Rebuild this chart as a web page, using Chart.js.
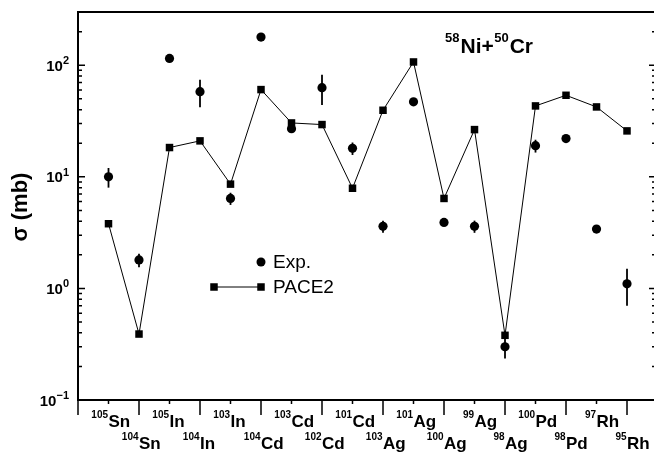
<!DOCTYPE html>
<html>
<head>
<meta charset="utf-8">
<script src="https://cdn.jsdelivr.net/npm/chart.js@4"></script>
<style>
  html, body { margin: 0; padding: 0; background: #fff; }
</style>
</head>
<body>
<canvas id="chart" width="654" height="452"></canvas>
<script>
// isotopes along the x axis (mass number + element)
const massNumbers = ["105", "104", "105", "104", "103", "104", "103", "102", "101", "103", "101", "100", "99", "98", "100", "98", "97", "95"];
const elements = ["Sn", "Sn", "In", "In", "In", "Cd", "Cd", "Cd", "Cd", "Ag", "Ag", "Ag", "Ag", "Ag", "Pd", "Pd", "Rh", "Rh"];

// cross sections in mb
const expValues = [10, 1.8, 115, 58, 6.4, 179, 27, 63, 18, 3.6, 47, 3.9, 3.6, 0.3, 19, 22, 3.4, 1.1];
const expErrors = [2, 0.25, 0, 16, 0.8, 0, 0, 19, 2.3, 0.45, 0, 0, 0.45, 0.065, 2.5, 0, 0, 0.4];
const paceValues = [3.8, 0.39, 18.3, 21, 8.6, 60.5, 30.4, 29.4, 7.9, 39.5, 107, 6.4, 26.5, 0.38, 43.2, 53.8, 42.3, 25.8];

const yTickExponents = [-1, 0, 1, 2];
const titleParts = [["58", true], ["Ni+", false], ["50", true], ["Cr", false]];

const FONT = "'Liberation Sans', Arial, Helvetica, sans-serif";
const INK = "#000";

const toPoints = (vals) => vals.map((v, i) => ({ x: i + 1, y: v }));

const decorations = {
   id: "decorations",
   beforeDatasetsDraw(chart) {
      // error bars under the markers
      const { ctx, scales } = chart;
      ctx.save();
      ctx.strokeStyle = INK;
      ctx.lineWidth = 1.8;
      expValues.forEach((v, i) => {
         const err = expErrors[i];
         if (!err) return;
         const x = scales.x.getPixelForValue(i + 1);
         ctx.beginPath();
         ctx.moveTo(x, scales.y.getPixelForValue(v + err));
         ctx.lineTo(x, scales.y.getPixelForValue(v - err));
         ctx.stroke();
      });
      ctx.restore();
   },
   afterDraw(chart) {
      const { ctx, chartArea: a, scales } = chart;
      const xs = scales.x;
      const ys = scales.y;
      ctx.save();
      ctx.strokeStyle = INK;
      ctx.fillStyle = INK;

      // frame
      ctx.lineWidth = 2;
      ctx.beginPath();
      ctx.moveTo(a.left, a.top);
      ctx.lineTo(a.right + 2, a.top);
      ctx.moveTo(a.left, a.top - 1);
      ctx.lineTo(a.left, a.bottom + 1);
      ctx.moveTo(a.left - 1, a.bottom);
      ctx.lineTo(a.right + 2, a.bottom);
      ctx.stroke();

      // x ticks (outward), long ones under the lower row of labels
      ctx.lineWidth = 1.5;
      ctx.beginPath();
      for (let i = 0; i <= elements.length; i++) {
         const x = xs.getPixelForValue(i);
         const len = i % 2 === 0 ? 15 : 4;
         ctx.moveTo(x, a.bottom);
         ctx.lineTo(x, a.bottom + len);
      }
      ctx.stroke();

      // y ticks, inward on left and right
      ctx.beginPath();
      for (let d = -1; d <= 2; d++) {
         for (let m = 1; m <= 9; m++) {
            const v = m * Math.pow(10, d);
            if (v > 300) break;
            const y = ys.getPixelForValue(v);
            const len = m === 1 ? 7 : 4;
            ctx.moveTo(a.left, y);
            ctx.lineTo(a.left + len, y);
            ctx.moveTo(a.right + 2, y);
            ctx.lineTo(a.right + 2 - len, y);
         }
      }
      ctx.stroke();

      // y tick labels 10^n
      ctx.textBaseline = "alphabetic";
      yTickExponents.forEach((e) => {
         const y = ys.getPixelForValue(Math.pow(10, e));
         const sup = e < 0 ? "\u2212" + Math.abs(e) : String(e);
         ctx.font = "bold 11px " + FONT;
         const supW = ctx.measureText(sup).width;
         ctx.font = "bold 15px " + FONT;
         const baseW = ctx.measureText("10").width;
         const right = a.left - 9;
         ctx.textAlign = "left";
         ctx.fillText("10", right - supW - baseW, y + 5.5);
         ctx.font = "bold 11px " + FONT;
         ctx.fillText(sup, right - supW, y - 1);
      });

      // x labels in two staggered rows
      elements.forEach((el, i) => {
         const x = xs.getPixelForValue(i + 1);
         const base = i % 2 === 0 ? 427 : 449;
         ctx.font = "bold 17px " + FONT;
         ctx.textAlign = "left";
         ctx.fillText(el, x, base);
         ctx.font = "bold 10px " + FONT;
         ctx.textAlign = "right";
         ctx.fillText(massNumbers[i], x - 0.5, base - 9);
      });

      // y axis title
      ctx.save();
      ctx.translate(21, (a.top + a.bottom) / 2 + 1);
      ctx.rotate(-Math.PI / 2);
      ctx.font = "bold 22px " + FONT;
      ctx.textAlign = "center";
      ctx.textBaseline = "middle";
      ctx.fillText("\u03c3 (mb)", 0, 0);
      ctx.restore();

      // reaction label
      let cx = 445;
      ctx.textAlign = "left";
      titleParts.forEach(([t, sup]) => {
         ctx.font = sup ? "bold 13px " + FONT : "bold 21px " + FONT;
         ctx.fillText(t, cx, sup ? 42 : 53);
         cx += ctx.measureText(t).width + (sup ? 1 : 0.5);
      });

      // legend
      ctx.font = "19px " + FONT;
      ctx.textBaseline = "middle";
      ctx.beginPath();
      ctx.arc(261, 262, 4.5, 0, Math.PI * 2);
      ctx.fill();
      ctx.fillText("Exp.", 273, 263);
      ctx.lineWidth = 1;
      ctx.beginPath();
      ctx.moveTo(214, 287);
      ctx.lineTo(261, 287);
      ctx.stroke();
      [214, 261].forEach((lx) => ctx.fillRect(lx - 3.75, 287 - 3.75, 7.5, 7.5));
      ctx.fillText("PACE2", 273, 288);

      ctx.restore();
   },
};

new Chart(document.getElementById("chart"), {
   type: "scatter",
   data: {
      datasets: [
         {
            label: "PACE2",
            data: toPoints(paceValues),
            showLine: true,
            borderColor: INK,
            borderWidth: 1,
            backgroundColor: INK,
            pointStyle: "rect",
            pointRadius: 5.3,
            pointBorderWidth: 0,
         },
         {
            label: "Exp.",
            data: toPoints(expValues),
            showLine: false,
            backgroundColor: INK,
            borderColor: INK,
            pointStyle: "circle",
            pointRadius: 4.6,
            pointBorderWidth: 0,
         },
      ],
   },
   options: {
      responsive: false,
      animation: false,
      layout: { autoPadding: false, padding: { left: 78, top: 12, right: 0, bottom: 52 } },
      plugins: {
         legend: { display: false },
         tooltip: { enabled: false },
      },
      scales: {
         x: { type: "linear", min: 0, max: 18.885, display: false },
         y: { type: "logarithmic", min: 0.1, max: 300, display: false },
      },
   },
   plugins: [decorations],
});
</script>
</body>
</html>
